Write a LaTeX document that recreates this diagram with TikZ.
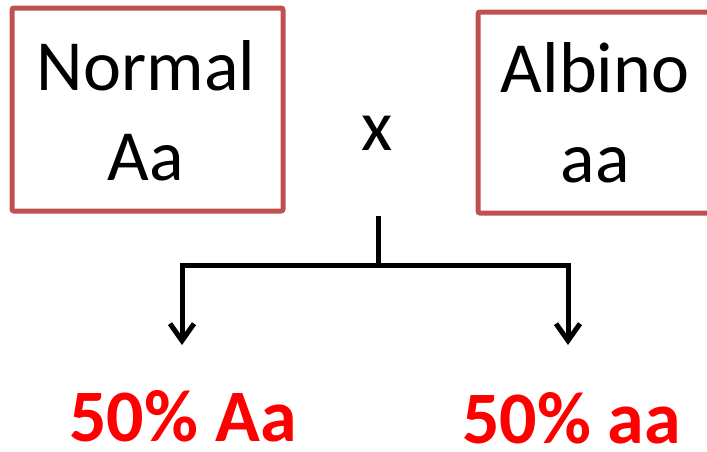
\documentclass[tikz,border=0pt]{standalone}
\usepackage{fontspec}
\setmainfont{Carlito}
\usetikzlibrary{arrows.meta}
\definecolor{boxred}{RGB}{192,80,77}
\definecolor{hotred}{RGB}{255,0,0}
\tikzset{
  parentbox/.style={draw=boxred, line width=5pt, rounded corners=2pt, inner sep=0pt},
  bigtext/.style={font=\fontsize{72}{86}\selectfont, anchor=base, inner sep=0pt},
  resulttext/.style={font=\fontsize{74}{88}\selectfont\bfseries, anchor=base, inner sep=0pt,
    text depth=0pt, text=hotred},
  linkline/.style={line width=5pt, line join=miter},
  branch/.style={linkline, -{Straight Barb[length=17pt,width=24pt,line width=5pt]}}
}
\begin{document}
\begin{tikzpicture}[x=1pt, y=-1pt]
  \useasboundingbox (0,0) rectangle (707,451);
  \clip (0,0) rectangle (707,451);

  % parent boxes
  \node[parentbox, minimum width=271pt, minimum height=203pt] (leftbox) at (147.5,109.5) {};
  \node[parentbox, minimum width=262pt, minimum height=201pt] (rightbox) at (609,112.5) {};

  \node[bigtext] (normal) at (146,90) {Normal};
  \node[bigtext] (genoA) at (146,180) {Aa};
  \node[bigtext] (albino) at (595,92) {Albino};
  \node[bigtext] (genoB) at (595,182) {aa};

  % cross sign
  \node[bigtext] (cross) at (377,150) {x};

  % branching connector
  \coordinate (stem) at (378,216);
  \coordinate (fork) at (378,265);
  \coordinate (tipL) at (182,345);
  \coordinate (tipR) at (568,345);
  \draw[linkline] (stem) -- (fork);
  \draw[branch] (fork) -| (tipL);
  \draw[branch] (fork) -| (tipR);

  % offspring
  \node[resulttext] (offA) at (183,441) {50\% Aa};
  \node[resulttext] (offB) at (571.5,443) {50\% aa};
\end{tikzpicture}
\end{document}
